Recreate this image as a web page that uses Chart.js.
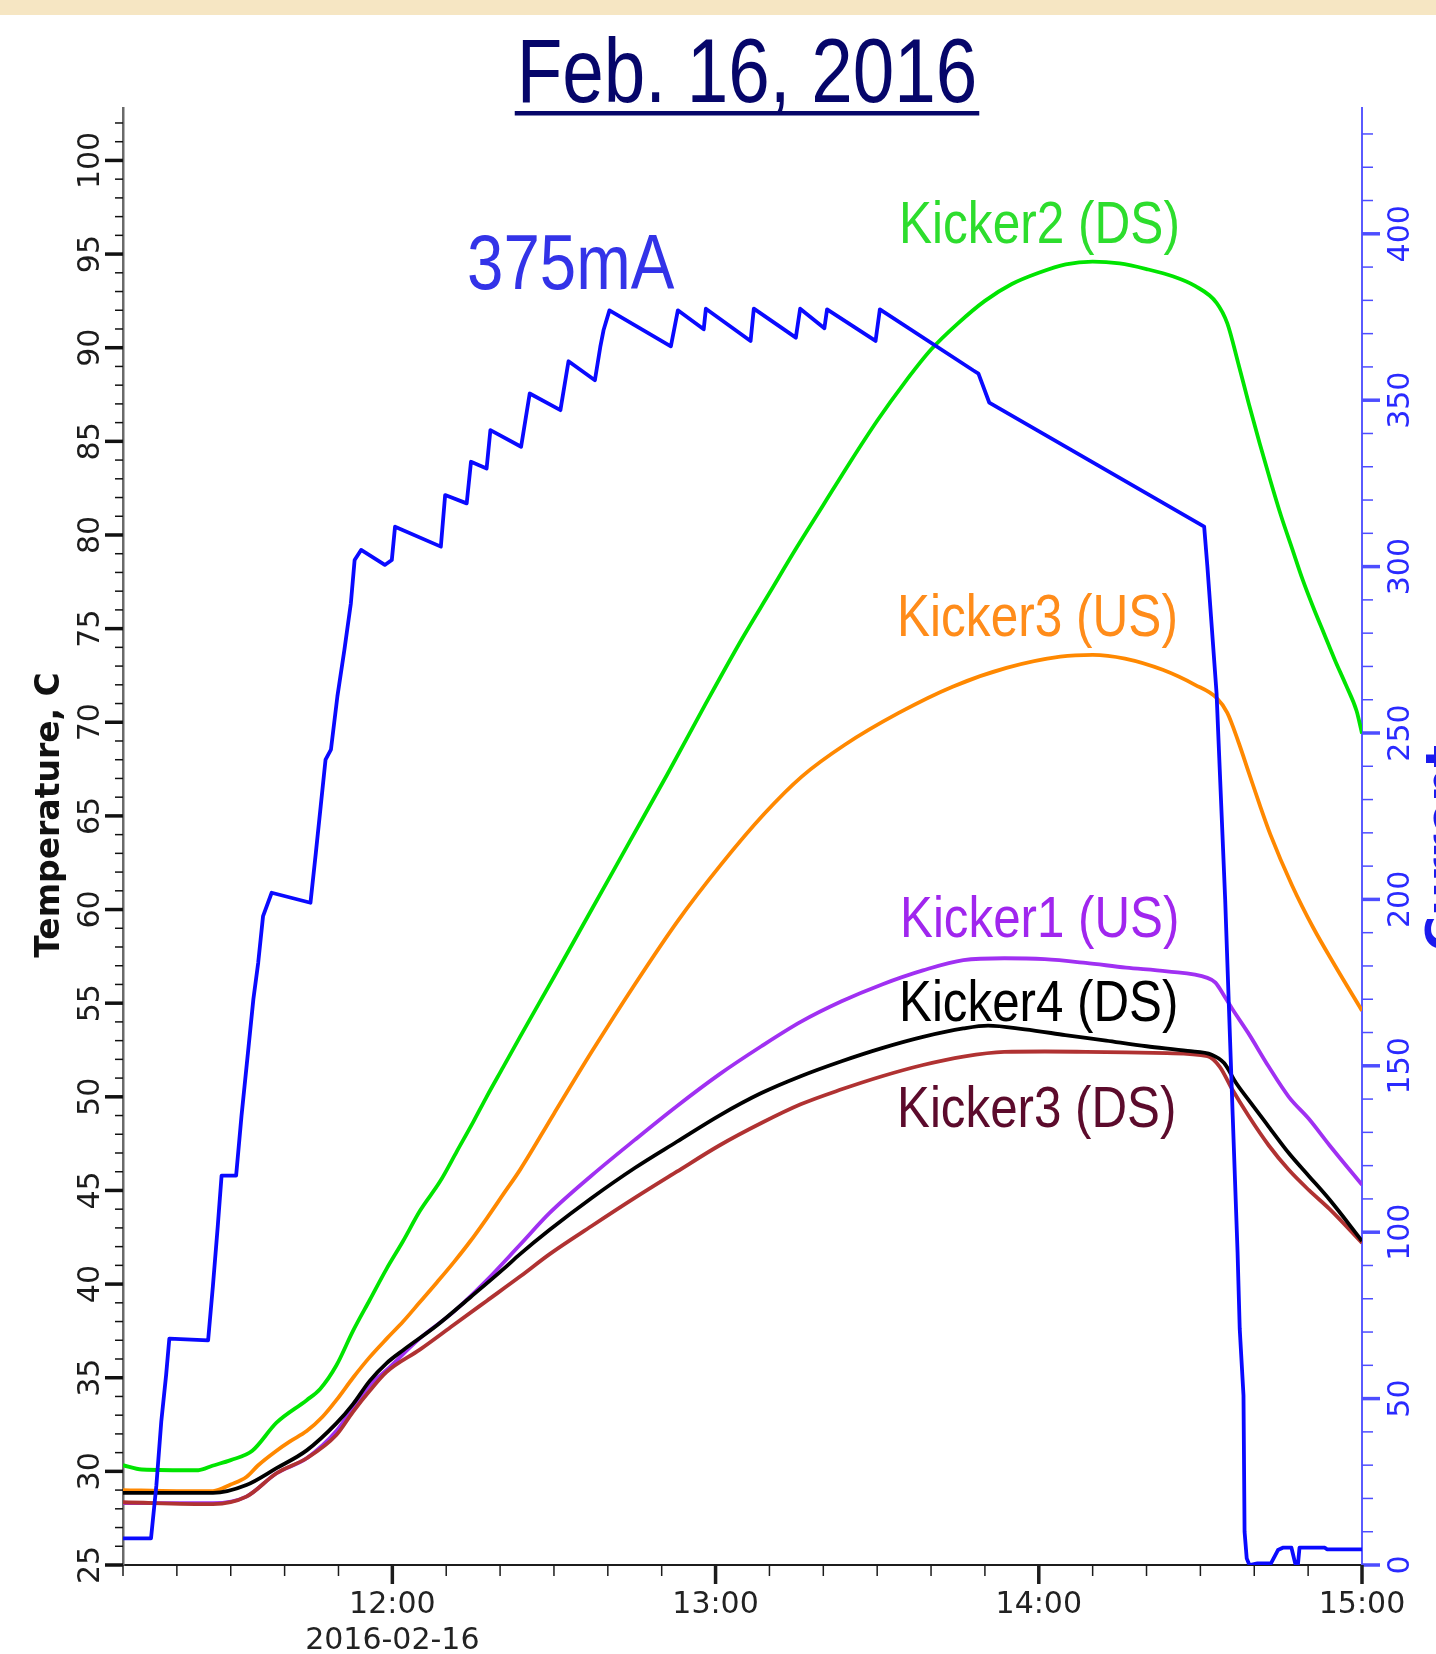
<!DOCTYPE html>
<html>
<head>
<meta charset="utf-8">
<script src="https://cdn.jsdelivr.net/npm/chart.js@4.4.1/dist/chart.umd.min.js"></script>
<style>
  html, body { margin: 0; padding: 0; background: #fff; }
</style>
</head>
<body>
<canvas id="kickerChart" width="1436" height="1654"></canvas>
<script>
// time axis is minutes after midnight (670 = 11:10, 900 = 15:00)

// beam current, mA
const currentTime = [670, 675.2, 676.2, 677.1, 678, 678.6, 685.8, 686.7, 687.6, 688.3, 691, 692, 693.2, 694.2, 695.1, 696, 697.6,
  704.8, 705.8, 706.7, 707.6, 708.6, 709.8, 711.1, 712.3, 713, 714.2, 718.6, 719.9, 720.5, 729, 729.8, 733.8, 734.6,
  737.5, 738.2, 743.9, 745.5, 751.2, 752.7, 757.6, 758.6, 759.2, 760.3, 771.7, 773, 777.8, 778.2, 786.5, 787.1,
  794.9, 795.7, 800.2, 800.7, 809.7, 810.5, 827.8, 828.8, 830.8, 870.7, 871.3, 873, 874.6, 876, 876.9, 877.3, 878,
  878.2, 878.6, 879.1, 880.6, 883.1, 884.4, 885.3, 886.9, 887.6, 888.1, 888.4, 893.1, 893.5, 900];
const currentValue = [8, 8, 24, 43, 57, 68, 67.5, 84, 102, 117, 117, 135, 154, 170, 181, 195, 202,
  199, 214, 228, 242, 245, 261, 275, 289, 302, 305, 300.5, 302, 312, 306, 321.5, 319, 331.5,
  329.5, 341, 336, 352, 347, 361.7, 356, 366, 371, 377, 366.2, 377, 371.3, 377.5, 367.8, 377.5,
  368.8, 377.5, 371.6, 377.3, 367.8, 377.3, 359, 358, 349.3, 312, 300, 262, 200, 135, 94, 71, 51,
  10, 2, 0, 0.5, 0.5, 4.5, 5.2, 5.2, 0.5, 0, 5.2, 5.2, 4.7, 4.7];

// Kicker2 (DS), deg C
const kicker2DsTime = [670, 673.5, 684, 686.6, 690, 694, 698.5, 704.1, 706.6, 709.6, 712.7, 715.8, 718.9, 722, 725.1,
  728.9, 732, 735.1, 737.5, 740.6, 743.7, 750, 757, 764, 771, 778, 785, 790, 795, 800, 805, 810, 815, 820, 825,
  830, 835, 840, 845, 850, 855, 860, 865, 869, 873, 875, 877, 879, 881, 883, 885, 887, 889, 891, 893, 895, 897,
  899, 900];
const kicker2DsTemp = [30.33, 30.1, 30.06, 30.3, 30.6, 31.1, 32.6, 33.8, 34.4, 35.65, 37.5, 39.15, 40.8, 42.3, 43.9,
  45.5, 47.1, 48.7, 50, 51.6, 53.2, 56.4, 60, 63.6, 67.2, 70.9, 74.5, 76.9, 79.3, 81.6, 83.9, 86.1, 88.1, 89.9, 91.3,
  92.5, 93.4, 94, 94.45, 94.6, 94.5, 94.2, 93.8, 93.3, 92.4, 91.3, 89.2, 87, 84.9, 82.9, 81, 79.3, 77.6, 76.1, 74.7,
  73.3, 72, 70.6, 69.4];

// Kicker3 (US)
const kicker3UsTime = [670, 680, 686.7, 690, 692.9, 695, 698.5, 701, 704.1, 707, 709.6, 712.7, 715.8, 719, 722, 725,
  728.3, 731.5, 734.5, 737.5, 740.6, 743.7, 750, 757, 765, 773, 781, 789, 796, 804, 814, 824, 834, 844, 850, 856,
  863, 869, 873, 875, 877, 879, 881, 883, 887, 891, 895, 900];
const kicker3UsTemp = [29, 28.95, 28.95, 29.3, 29.7, 30.3, 31.1, 31.6, 32.15, 32.9, 33.8, 35, 36.1, 37.1, 38, 39,
  40.1, 41.2, 42.3, 43.5, 44.8, 46.1, 49.1, 52.4, 56, 59.4, 62.4, 65.1, 67.1, 68.8, 70.5, 71.9, 72.9, 73.5, 73.6, 73.4,
  72.8, 72, 71.3, 70.5, 69, 67.3, 65.6, 64, 61.3, 59, 57, 54.6];

// Kicker1 (US)
const kicker1UsTime = [670, 686.7, 692.9, 698.5, 704.1, 709.6, 712.7, 715.8, 718.9, 725.1, 731.3, 737.5, 743.7, 749.2,
  757, 765, 772.8, 780.7, 788.5, 795.8, 803.4, 810.9, 818.5, 826, 833.6, 841.1, 848.7, 856.2, 863.8, 871.3, 872.8,
  874.4, 875.9, 878.9, 882.7, 886.4, 890.2, 894, 900];
const kicker1UsTemp = [28.3, 28.3, 28.65, 29.9, 30.7, 32.15, 33.4, 34.6, 35.4, 37.1, 38.5, 40.2, 42.1, 43.8,
  45.8, 47.7, 49.5, 51.2, 52.7, 54, 55.1, 56, 56.75, 57.3, 57.4, 57.35, 57.15, 56.9, 56.7, 56.35, 56.1,
  55.4, 54.7, 53.4, 51.6, 50, 48.8, 47.4, 45.3];

// Kicker4 (DS)
const kicker4DsTime = [670, 686.7, 692.9, 698.5, 704.1, 709.6, 712.7, 715.8, 718.9, 722, 728.3, 734.5, 740.6, 743.7,
  749.2, 757, 765, 772.8, 780.7, 788.5, 795.8, 803.4, 810.9, 818.5, 826, 830.6, 837.4, 844.9, 852.5, 860, 867.6,
  872.1, 874.4, 876.6, 878.9, 882.7, 886.4, 890.2, 894, 900];
const kicker4DsTemp = [28.85, 28.85, 29.27, 30.17, 31.12, 32.56, 33.59, 34.83, 35.77, 36.47, 37.8, 39.3, 40.8, 41.6,
  42.9, 44.6, 46.2, 47.6, 49, 50.2, 51.1, 51.9, 52.6, 53.2, 53.65, 53.8, 53.6, 53.3, 53, 52.7, 52.45,
  52.25, 51.8, 50.75, 49.85, 48.4, 47, 45.75, 44.5, 42.3];

// Kicker3 (DS)
const kicker3DsTime = [670, 686.7, 692.9, 698.5, 704.1, 709.6, 712.7, 715.8, 718.9, 725.1, 731.3, 737.5, 743.7, 749.2,
  757, 765, 772.8, 780.7, 788.5, 795.8, 803.4, 810.9, 818.5, 826, 833.6, 841.1, 848.7, 856.2, 863.8, 871.3,
  873.6, 875.9, 878.9, 882.7, 886.4, 890.2, 894, 900];
const kicker3DsTemp = [28.35, 28.25, 28.65, 29.9, 30.7, 31.94, 33.18, 34.3, 35.3, 36.5, 37.8, 39.1, 40.4, 41.6,
  43.1, 44.6, 46, 47.4, 48.6, 49.6, 50.4, 51.1, 51.7, 52.15, 52.4, 52.42, 52.4, 52.37, 52.33, 52.17,
  51.6, 50.4, 49, 47.4, 46.1, 45, 44, 42.2];

const hourLabels = [720, 780, 840, 900];
const dateLabel = "2016-02-16";

function toPoints(times, values) {
  return times.map((t, i) => ({ x: t, y: values[i] }));
}

function hhmm(v) {
  const h = Math.floor(v / 60);
  const m = v % 60;
  return h + ":" + (m < 10 ? "0" : "") + m;
}

function narrowText(c, str, x, y, size, sx, color) {
  c.save();
  c.translate(x, y);
  c.scale(sx, 1);
  c.font = size + 'px "Liberation Sans", Arial, sans-serif';
  c.fillStyle = color;
  c.textAlign = "left";
  c.textBaseline = "alphabetic";
  c.fillText(str, 0, 0);
  c.restore();
}

function upText(c, str, x, y, font, color) {
  c.save();
  c.translate(x, y);
  c.rotate(-Math.PI / 2);
  c.font = font;
  c.fillStyle = color;
  c.textAlign = "center";
  c.textBaseline = "alphabetic";
  c.fillText(str, 0, 0);
  c.restore();
}

// ---------------------------------------------
// axis ticks, labels and text annotations
// ---------------------------------------------
const decorations = {
  id: "decorations",
  beforeDraw(chart) {
    const c = chart.ctx;
    c.save();
    c.fillStyle = "#ffffff";
    c.fillRect(0, 0, chart.width, chart.height);
    c.fillStyle = "#f6e6c3";
    c.fillRect(0, 0, chart.width, 15);
    c.restore();
  },
  afterDraw(chart) {
    const c = chart.ctx;
    const xs = chart.scales.x;
    const yT = chart.scales.yT;
    const yI = chart.scales.yI;
    const area = chart.chartArea;

    c.save();
    c.lineCap = "butt";

    // left temperature axis
    yT.ticks.forEach(tk => {
      if (!Number.isInteger(tk.value)) return;
      const py = yT.getPixelForValue(tk.value);
      const major = tk.value % 5 === 0;
      c.strokeStyle = "#111";
      c.lineWidth = major ? 3.5 : 1.5;
      c.beginPath();
      c.moveTo(area.left, py);
      c.lineTo(area.left - (major ? 18 : 8), py);
      c.stroke();
      if (major) upText(c, String(tk.value), 99, py, '30px "DejaVu Sans"', "#1c1c1c");
    });

    // right current axis
    yI.ticks.forEach(tk => {
      if (!Number.isInteger(tk.value) || tk.value % 10 !== 0) return;
      const py = yI.getPixelForValue(tk.value);
      const major = tk.value % 50 === 0;
      c.strokeStyle = "#4d4dff";
      c.lineWidth = major ? 3.5 : 1.5;
      c.beginPath();
      c.moveTo(area.right, py);
      c.lineTo(area.right + (major ? 18 : 11), py);
      c.stroke();
      if (major) upText(c, String(tk.value), 1409, py, '30px "DejaVu Sans"', "#2a2aff");
    });

    // time axis
    xs.ticks.forEach(tk => {
      if (!Number.isInteger(tk.value)) return;
      const px = xs.getPixelForValue(tk.value);
      const major = tk.value % 60 === 0;
      c.strokeStyle = "#1c1c1c";
      c.lineWidth = major ? 3.5 : 1.5;
      c.beginPath();
      c.moveTo(px, area.bottom);
      c.lineTo(px, area.bottom + (major ? 19 : 11));
      c.stroke();
    });
    c.font = '30px "DejaVu Sans"';
    c.fillStyle = "#222";
    c.textAlign = "center";
    c.textBaseline = "alphabetic";
    hourLabels.forEach(v => {
      c.fillText(hhmm(v), xs.getPixelForValue(v), 1613);
    });
    c.fillText(dateLabel, xs.getPixelForValue(720), 1649);

    // axis titles
    upText(c, "Temperature, C", 59, 815, 'bold 33px "DejaVu Sans"', "#111");
    upText(c, "Current", 1460, 848, 'bold 48px "DejaVu Sans"', "#1a1aee");

    // title
    const title = "Feb. 16, 2016";
    c.font = '91px "Liberation Sans", Arial, sans-serif';
    const tw = c.measureText(title).width * 0.82;
    narrowText(c, title, 747 - tw / 2, 102, 91, 0.82, "#06066a");
    c.fillStyle = "#06066a";
    c.fillRect(747 - tw / 2 - 2, 111, tw + 4, 4.5);

    // series annotations
    narrowText(c, "375mA", 467, 289, 77, 0.85, "#3333e8");
    narrowText(c, "Kicker2 (DS)", 899, 243, 59, 0.84, "#2ddd2d");
    narrowText(c, "Kicker3 (US)", 897, 636, 59, 0.84, "#ff8c1a");
    narrowText(c, "Kicker1 (US)", 900, 937, 58, 0.85, "#a026ee");
    narrowText(c, "Kicker4 (DS)", 899, 1021, 58, 0.85, "#000000");
    narrowText(c, "Kicker3 (DS)", 897, 1127, 58, 0.85, "#5c0b2c");

    c.restore();
  }
};

const ctx = document.getElementById("kickerChart").getContext("2d");

const lineStyle = {
  pointRadius: 0,
  borderWidth: 3.8,
  borderJoinStyle: "round",
  fill: false
};

new Chart(ctx, {
  type: "line",
  data: {
    datasets: [
      Object.assign({ label: "Current", data: toPoints(currentTime, currentValue), yAxisID: "yI",
        borderColor: "#0a0aff", order: 0 }, lineStyle),
      Object.assign({ label: "Kicker4 (DS)", data: toPoints(kicker4DsTime, kicker4DsTemp), yAxisID: "yT",
        borderColor: "#000000", cubicInterpolationMode: "monotone", order: 1 }, lineStyle),
      Object.assign({ label: "Kicker1 (US)", data: toPoints(kicker1UsTime, kicker1UsTemp), yAxisID: "yT",
        borderColor: "#a030f2", cubicInterpolationMode: "monotone", order: 3 }, lineStyle),
      Object.assign({ label: "Kicker3 (DS)", data: toPoints(kicker3DsTime, kicker3DsTemp), yAxisID: "yT",
        borderColor: "#b03232", cubicInterpolationMode: "monotone", order: 2 }, lineStyle),
      Object.assign({ label: "Kicker3 (US)", data: toPoints(kicker3UsTime, kicker3UsTemp), yAxisID: "yT",
        borderColor: "#ff8800", cubicInterpolationMode: "monotone", order: 4 }, lineStyle),
      Object.assign({ label: "Kicker2 (DS)", data: toPoints(kicker2DsTime, kicker2DsTemp), yAxisID: "yT",
        borderColor: "#00e400", cubicInterpolationMode: "monotone", order: 5 }, lineStyle)
    ]
  },
  options: {
    responsive: false,
    animation: false,
    layout: { padding: { top: 108, left: 0, right: 0, bottom: 0 } },
    plugins: {
      legend: { display: false },
      tooltip: { enabled: false }
    },
    scales: {
      x: {
        type: "linear",
        min: 670,
        max: 900,
        ticks: { stepSize: 10, display: false },
        grid: { display: false },
        border: { color: "#1c1c1c", width: 2 },
        afterFit: s => { s.height = 89; }
      },
      yT: {
        position: "left",
        min: 25,
        max: 102.8,
        ticks: { stepSize: 1, display: false },
        grid: { display: false },
        border: { color: "#6a6a6a", width: 2.5 },
        afterFit: s => { s.width = 123; }
      },
      yI: {
        position: "right",
        min: 0,
        max: 437.8,
        ticks: { stepSize: 10, display: false },
        grid: { display: false },
        border: { color: "#5a5aff", width: 2 },
        afterFit: s => { s.width = 74; }
      }
    }
  },
  plugins: [decorations]
});
</script>
</body>
</html>
